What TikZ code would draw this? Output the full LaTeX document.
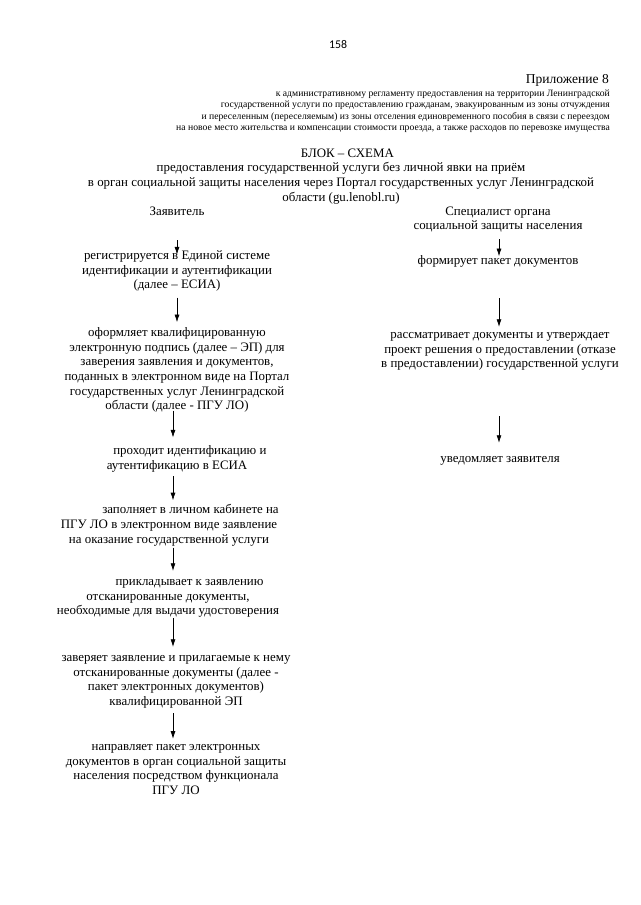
\documentclass[tikz,border=0pt]{standalone}
\usepackage{fontspec}
\setmainfont{Liberation Serif}
\newfontfamily\pagefont{Carlito}
\usetikzlibrary{arrows.meta}
\tikzstyle{action} = [inner sep=0pt, align=center, font=\fontsize{12}{13.6}\selectfont, execute at begin node=\strut, execute at end node=\strut]
\tikzstyle{note} = [inner sep=0pt, align=right, font=\fontsize{9}{10.6}\selectfont, execute at begin node=\strut, execute at end node=\strut]
\tikzstyle{arrow} = [line width=0.6pt, ->, >={Latex[length=7pt,width=4.6pt]}, shorten <=2pt, shorten >=7pt]

\begin{document}
\begin{tikzpicture}[x=0.9302pt, y=-0.9302pt]
\useasboundingbox (0,0) rectangle (640,905);

% header
\node (page) [inner sep=0pt, font=\pagefont\fontsize{11}{13}\selectfont] at (338,45) {158};
\node (app) [action, anchor=east, font=\fontsize{12.6}{14}\selectfont] at (609,80) {Приложение 8};
\node (appnote) [note, anchor=east] at (610,112) {к  административному регламенту предоставления на территории Ленинградской\\
государственной услуги по  предоставлению  гражданам, эвакуированным из зоны отчуждения\\
и переселенным (переселяемым)  из зоны отселения единовременного пособия в связи с переездом\\
на новое место жительства и компенсации стоимости проезда, а также расходов по перевозке имущества};

\node (title) [action] at (341,177) {\hspace*{12pt}БЛОК – СХЕМА\\
предоставления государственной услуги  без личной явки на приём\\
в орган социальной защиты населения через Портал государственных услуг Ленинградской\\
области (gu.lenobl.ru)};

% left column
\node (z0) [action] at (177,213) {Заявитель};
\node (z1) [action] at (177,272) {регистрируется в Единой системе\\ идентификации и аутентификации\\ (далее – ЕСИА)};
\node (z2) [action] at (177,371) {оформляет  квалифицированную\\ электронную подпись (далее – ЭП) для\\ заверения заявления и документов,\\ поданных в электронном виде на Портал\\ государственных услуг Ленинградской\\ области (далее - ПГУ ЛО)};
\node (z3) [action] at (177,460) {\hspace*{24pt}проходит идентификацию и\\ аутентификацию в ЕСИА};
\node (z4) [action] at (169,526) {\hspace*{40pt}заполняет в личном кабинете на\\ ПГУ ЛО в электронном виде заявление\\ на оказание государственной услуги};
\node (z5) [action] at (168,599.5) {\hspace*{40pt}прикладывает  к заявлению\\ отсканированные документы,\\ необходимые для выдачи удостоверения};
\node (z6) [action] at (176,682.5) {заверяет заявление и прилагаемые к нему\\ отсканированные документы (далее -\\ пакет электронных документов)\\ квалифицированной ЭП};
\node (z7) [action] at (176,771.5) {направляет пакет электронных\\ документов в орган социальной защиты\\ населения посредством функционала\\ ПГУ ЛО};

% right column
\node (s0) [action] at (498,220.3) {Специалист органа\\ социальной защиты населения};
\node (s1) [action] at (498,262) {формирует пакет документов};
\node (s2) [action] at (500,352.5) {рассматривает документы и утверждает\\ проект решения о предоставлении (отказе\\ в предоставлении) государственной услуги};
\node (s3) [action] at (500,460) {уведомляет заявителя};

\coordinate (axl) at (177,0);
\coordinate (axm) at (173,0);
\coordinate (axr) at (499,0);

\draw [arrow, shorten <=18.3pt, shorten >=-3.6pt] (z0.south -| axl) -- (z1.north -| axl);
\draw [arrow, shorten <=4pt, shorten >=5pt] (z1.south -| axl) -- (z2.north -| axl);
\draw [arrow, shorten <=-3.5pt, shorten >=7.8pt] (z2.south -| axm) -- (z3.north -| axm);
\draw [arrow, shorten >=3.8pt] (z3.south -| axm) -- (z4.north -| axm);
\draw [arrow, shorten <=0pt, shorten >=8pt] (z4.south -| axm) -- (z5.north -| axm);
\draw [arrow, shorten <=-1.3pt, shorten >=7.7pt] (z5.south -| axm) -- (z6.north -| axm);
\draw [arrow, shorten <=3pt, shorten >=5pt] (z6.south -| axm) -- (z7.north -| axm);

\draw [arrow, shorten <=4.7pt, shorten >=-1.6pt] (s0.south -| axr) -- (s1.north -| axr);
\draw [arrow, shorten <=26.7pt, shorten >=5.2pt] (s1.south -| axr) -- (s2.north -| axr);
\draw [arrow, shorten <=40.6pt, shorten >=9pt] (s2.south -| axr) -- (s3.north -| axr);

\end{tikzpicture}
\end{document}
